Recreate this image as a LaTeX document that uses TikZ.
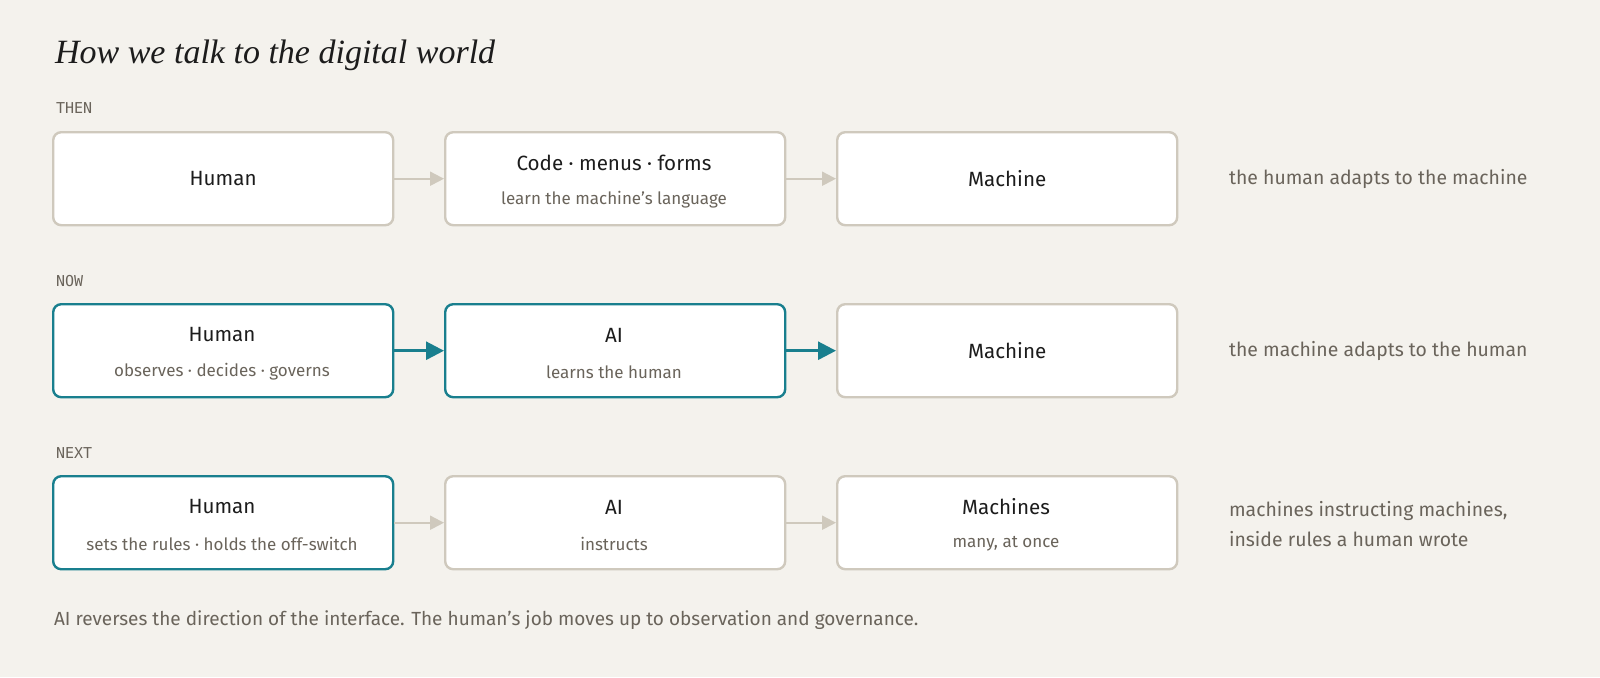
\documentclass[tikz,border=0pt]{standalone}
\usepackage{fontspec}
\setmainfont{Liberation Serif}
\setsansfont{Fira Sans}
\setmonofont{DejaVu Sans Mono}
\usetikzlibrary{arrows.meta}
\definecolor{bg}{HTML}{F4F2ED}
\definecolor{bd}{HTML}{CFC9BD}
\definecolor{teal}{HTML}{197F8E}
\definecolor{ink}{HTML}{1C1C1C}
\definecolor{sub}{HTML}{6A645B}
\begin{document}
\begin{tikzpicture}[x=0.5pt,y=-0.5pt,
  box/.style={draw=bd,line width=1.2pt,fill=white,rounded corners=4pt,minimum width=170pt,minimum height=46.5pt,anchor=north west,inner sep=0pt},
  tbox/.style={box,draw=teal},
  main/.style={font=\sffamily\fontsize{10.3}{12}\selectfont,text=ink},
  subt/.style={font=\sffamily\fontsize{8.5}{10}\selectfont,text=sub},
  lab/.style={font=\ttfamily\fontsize{7.5}{9}\selectfont,text=sub,anchor=west},
  side/.style={font=\sffamily\fontsize{9.7}{15}\selectfont,text=sub,anchor=west,align=left},
  garr/.style={draw=bd,line width=1pt,-{Triangle[length=7pt,width=7pt]}},
  tarr/.style={draw=teal,line width=1.4pt,-{Triangle[length=9pt,width=9pt]}}]
\fill[bg] (0,0) rectangle (1600,677);
\node[anchor=west,font=\itshape\fontsize{17}{20}\selectfont,text=ink] (title) at (48,55) {How we talk to the digital world};
\node[lab] (l1) at (49,108) {THEN};
\node[lab] (l2) at (49,281) {NOW};
\node[lab] (l3) at (49,453) {NEXT};
% row 1
\node[box] (a1) at (52,131) {};
\node[main] at (a1.center) {Human};
\node[box] (b1) at (444,131) {};
\node[main] at (614,163) {Code · menus · forms};
\node[subt] at (614,200) {learn the machine's language};
\node[box] (c1) at (836,131) {};
\node[main] at (c1.center) {Machine};
\node[side] (s1) at (1222,179) {the human adapts to the machine};
\draw[garr] (a1.east) -- (b1.west);
\draw[garr] (b1.east) -- (c1.west);
% row 2
\node[tbox] (a2) at (52,303) {};
\node[main] at (222,335) {Human};
\node[subt] at (222,372) {observes · decides · governs};
\node[tbox] (b2) at (444,303) {};
\node[main] at (614,335) {AI};
\node[subt] at (614,372) {learns the human};
\node[box] (c2) at (836,303) {};
\node[main] at (c2.center) {Machine};
\node[side] (s2) at (1222,351) {the machine adapts to the human};
\draw[tarr] (a2.east) -- (b2.west);
\draw[tarr] (b2.east) -- (c2.west);
% row 3
\node[tbox] (a3) at (52,475) {};
\node[main] at (222,507) {Human};
\node[subt] at (222,544) {sets the rules · holds the off-switch};
\node[box] (b3) at (444,475) {};
\node[main] at (614,507) {AI};
\node[subt] at (614,544) {instructs};
\node[box] (c3) at (836,475) {};
\node[main] at (1006,507) {Machines};
\node[subt] at (1006,544) {many, at once};
\node[side] (s3) at (1222,524) {machines instructing machines,\\inside rules a human wrote};
\draw[garr] (a3.east) -- (b3.west);
\draw[garr] (b3.east) -- (c3.west);
\node[anchor=west,font=\sffamily\fontsize{9.5}{12}\selectfont,text=sub] (foot) at (47,620) {AI reverses the direction of the interface. The human's job moves up to observation and governance.};
\end{tikzpicture}
\end{document}
